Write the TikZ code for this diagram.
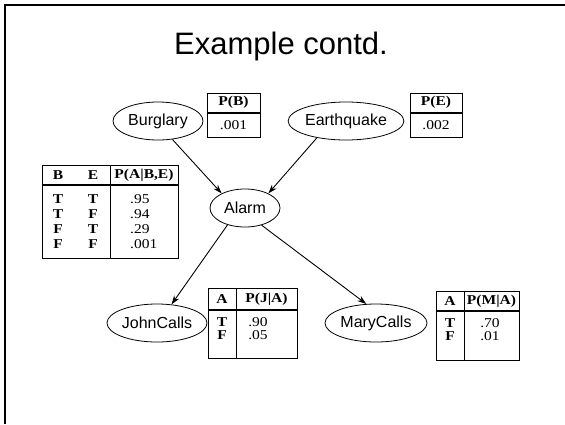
\documentclass[tikz,border=0pt]{standalone}
\usepackage{fontspec}
\setmainfont{Liberation Sans}
\newfontfamily\tabfont[FakeStretch=1.15]{Liberation Serif}
\usetikzlibrary{shapes.geometric,arrows.meta}
\begin{document}
\begin{tikzpicture}[x=1pt,y=-1pt,
  var/.style={ellipse,draw,line width=0.8pt,inner sep=0pt,minimum height=38pt,font=\fontsize{16}{18}\selectfont},
  edge/.style={line width=0.9pt,-{Stealth[length=9pt,width=6pt]}},
  tbl/.style={line width=0.8pt},
  hdr/.style={line width=1.6pt},
  th/.style={font=\tabfont\bfseries\fontsize{13.5}{15}\selectfont,inner sep=0pt},
  td/.style={font=\tabfont\fontsize{13.5}{15}\selectfont,inner sep=0pt}]
\useasboundingbox (0,0) rectangle (565,424);
\draw[line width=2.5pt] (5,424) -- (5,5) -- (565,5);

\node[anchor=base] (title) at (281,54) {\fontsize{31}{36}\selectfont Example contd.};

% variables
\node[var,minimum width=90pt] (b) at (158,121) {Burglary};
\node[var,minimum width=110pt] (e) at (346,121) {Earthquake};
\node[var,minimum width=70pt] (a) at (245,208) {Alarm};
\node[var,minimum width=100pt] (j) at (157,323) {JohnCalls};
\node[var,minimum width=102pt] (m) at (376,323) {MaryCalls};

\draw[edge] (b.-52) -- (a.148);
\draw[edge] (e.210) -- (a.32);
\draw[edge] (a.224) -- (j.52);
\draw[edge] (a.-46) -- (m.117);

% P(B)
\draw[tbl] (207,93) rectangle (260,137);
\draw[hdr] (207,113) -- (260,113);
\node[th] (pbh) at (233.5,102) {P(B)};
\node[td] (pbv) at (233.5,125) {.001};

% P(E)
\draw[tbl] (410,93) rectangle (462,137);
\draw[hdr] (410,113) -- (462,113);
\node[th] (peh) at (436,102) {P(E)};
\node[td] (pev) at (436,125) {.002};

% P(A|B,E)
\draw[tbl] (42,165) rectangle (178,258);
\draw[hdr] (42,185) -- (178,185);
\draw[tbl] (110,165) -- (110,258);
\node[th] (ab) at (58,175) {B};
\node[th] (ae) at (93,175) {E};
\node[th] (ap) at (144,175) {P(A|B,E)};
\node[th] (r1b) at (58,199) {T};
\node[th] (r1e) at (93,199) {T};
\node[td,anchor=west] (r1p) at (130,199) {.95};
\node[th] (r2b) at (58,214) {T};
\node[th] (r2e) at (93,214) {F};
\node[td,anchor=west] (r2p) at (130,214) {.94};
\node[th] (r3b) at (58,229) {F};
\node[th] (r3e) at (93,229) {T};
\node[td,anchor=west] (r3p) at (130,229) {.29};
\node[th] (r4b) at (58,244) {F};
\node[th] (r4e) at (93,244) {F};
\node[td,anchor=west] (r4p) at (130,244) {.001};

% P(J|A)
\draw[tbl] (208,288) rectangle (297,358);
\draw[hdr] (208,310) -- (297,310);
\draw[tbl] (236,288) -- (236,358);
\node[th] (ja) at (222,299) {A};
\node[th] (jp) at (266.5,299) {P(J|A)};
\node[th] (jt) at (222,322) {T};
\node[th] (jf) at (222,335) {F};
\node[td] (jtv) at (258,322) {.90};
\node[td] (jfv) at (258,335) {.05};

% P(M|A)
\draw[tbl] (436,291) rectangle (519,360);
\draw[hdr] (436,311) -- (519,311);
\draw[tbl] (464,291) -- (464,360);
\node[th] (ma) at (450,301) {A};
\node[th] (mp) at (491.5,301) {P(M|A)};
\node[th] (mt) at (450,323) {T};
\node[th] (mf) at (450,336) {F};
\node[td] (mtv) at (490,323) {.70};
\node[td] (mfv) at (490,336) {.01};
\end{tikzpicture}
\end{document}
